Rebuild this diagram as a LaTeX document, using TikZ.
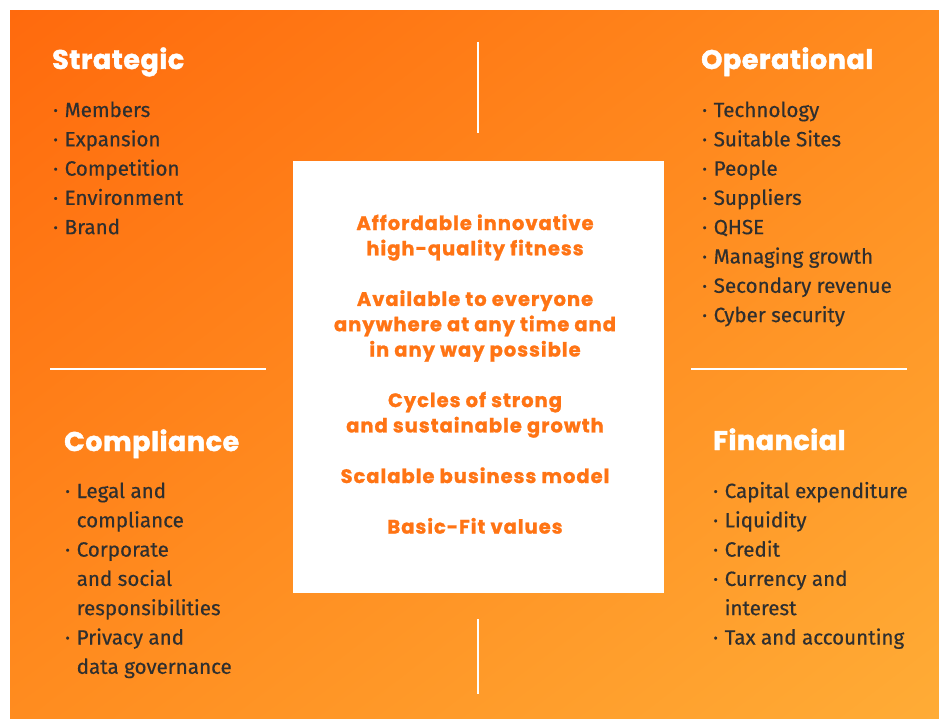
\documentclass[tikz,border=0pt]{standalone}
\usepackage{fontspec}
\setmainfont{Fira Sans}
\newfontfamily\headfont{Poppins}
\usetikzlibrary{positioning,shadings}
\definecolor{bgdark}{HTML}{FF6A0D}
\definecolor{bgmid}{HTML}{FF8C1F}
\definecolor{bglight}{HTML}{FFAC36}
\definecolor{textgrey}{HTML}{2F2F2F}
\definecolor{coreorange}{HTML}{FF7414}
\tikzset{
  heading/.style={anchor=base west, inner sep=0pt, text=white, font=\headfont\bfseries\addfontfeatures{LetterSpace=2,FakeBold=1.6}\fontsize{27}{30}\selectfont},
  itemlist/.style={anchor=base west, inner sep=0pt, align=left, text=textgrey, font=\addfontfeatures{FakeBold=0.4}\fontsize{20.6}{29.3}\selectfont},
  corebox/.style={fill=white, draw=none, minimum width=371pt, minimum height=432pt, inner sep=0pt},
  coretext/.style={anchor=base, inner sep=0pt, align=center, text=coreorange, font=\headfont\bfseries\addfontfeatures{LetterSpace=5,FakeBold=1.2}\fontsize{19.5}{25.3}\selectfont},
  divider/.style={white, line width=2pt},
}
\newcommand{\bul}[1]{\makebox[11.5pt][l]{·}#1}
\newcommand{\cont}[1]{\hspace*{11.5pt}#1}

\begin{document}
\begin{tikzpicture}[x=1pt,y=-1pt]
  \useasboundingbox (0,0) rectangle (939,719);
  % background
  \shade[upper left=bgdark, upper right=bgmid, lower left=bgmid, lower right=bglight] (10,11) rectangle (939,719);

  % centre box (base = last line)
  \node[corebox] (core) at (478.5,377) {};
  \node[coretext] (values) at (475,533.6) {Affordable innovative\\high-quality fitness\\[25.3pt]
    Available to everyone\\anywhere at any time and\\in any way possible\\[25.3pt]
    Cycles of strong\\and sustainable growth\\[25.3pt]
    Scalable business model\\[25.3pt]
    Basic-Fit values};

  % dividers
  \coordinate (vtopA) at (478,42);
  \coordinate (vtopB) at (478,133);
  \coordinate (vbotA) at (478,619);
  \coordinate (vbotB) at (478,694);
  \coordinate (hleftA) at (50,369);
  \coordinate (hleftB) at (266,369);
  \coordinate (hrightA) at (691,369);
  \coordinate (hrightB) at (907,369);
  \draw[divider] (vtopA) -- (vtopB);
  \draw[divider] (vbotA) -- (vbotB);
  \draw[divider] (hleftA) -- (hleftB);
  \draw[divider] (hrightA) -- (hrightB);

  % strategic
  \node[heading] (strategic) at (52,69) {Strategic};
  \node[itemlist] (strategiclist) at (53,234.2) {\bul{Members}\\\bul{Expansion}\\\bul{Competition}\\\bul{Environment}\\\bul{Brand}};

  % operational
  \node[heading] (operational) at (701,69) {Operational};
  \node[itemlist] (operationallist) at (702,322.1) {\bul{Technology}\\\bul{Suitable Sites}\\\bul{People}\\\bul{Suppliers}\\\bul{QHSE}\\\bul{Managing growth}\\\bul{Secondary revenue}\\\bul{Cyber security}};

  % compliance
  \node[heading] (compliance) at (64,451) {Compliance};
  \node[itemlist] (compliancelist) at (65,673.8) {\bul{Legal and}\\\cont{compliance}\\\bul{Corporate}\\\cont{and social}\\\cont{responsibilities}\\\bul{Privacy and}\\\cont{data governance}};

  % financial
  \node[heading] (financial) at (713,450) {Financial};
  \node[itemlist] (financiallist) at (713,644.5) {\bul{Capital expenditure}\\\bul{Liquidity}\\\bul{Credit}\\\bul{Currency and}\\\cont{interest}\\\bul{Tax and accounting}};
\end{tikzpicture}
\end{document}
